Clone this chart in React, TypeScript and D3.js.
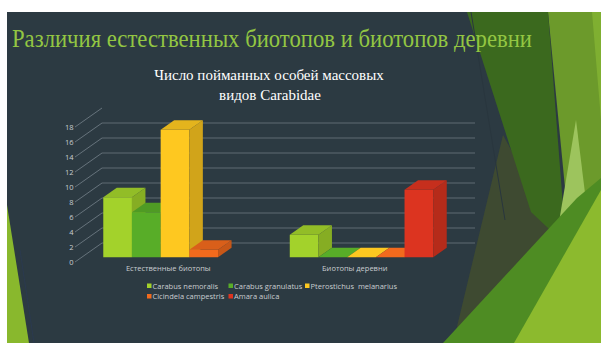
import React from "react";
import * as d3 from "d3";

const categories = ["Естественные биотопы", "Биотопы деревни"];
const seriesNames = [
  "Carabus nemoralis",
  "Carabus granulatus",
  "Pterostichus  melanarius",
  "Cicindela campestris",
  "Amara aulica",
];
const seriesColors = ["#a3d22b", "#58ad28", "#fec820", "#f26a1d", "#dc3420"];
// values per category, in series order (null = no bar)
const naturalValues: (number | null)[] = [8, 6, 17, 1, null];
const villageValues: (number | null)[] = [3, 0, 0, 0, 9];
const yTicks = [0, 2, 4, 6, 8, 10, 12, 14, 16, 18];
const gridTicks = [0, 2, 4, 6, 8, 10, 12, 14, 16];

const W = 601;
const H = 343;
const BG = "#2c3a42";

export default function App() {
  const values = [naturalValues, villageValues];
  const x = d3.scaleBand<string>().domain(categories).range([75, 448]);
  const y = d3.scaleLinear().domain([0, 18]).range([262, 127]);
  const DX = 27;
  const DY = -19;
  const P = (px: number, v: number, t: number): [number, number] => [
    px + DX * t,
    y(v) + DY * t,
  ];
  const bw = x.bandwidth() / 6.5;
  const t0 = 0.25;
  const t1 = 0.75;
  const poly = (pts: [number, number][]) => pts.map((p) => p.join(",")).join(" ");

  const bars: JSX.Element[] = [];
  categories.forEach((c, ci) => {
    values[ci].forEach((v, si) => {
      if (v === null) return;
      const x0 = (x(c) as number) + 0.75 * bw + si * bw;
      const x1 = x0 + bw;
      const col = seriesColors[si];
      const top = d3.color(col)!.darker(0.3).toString();
      const side = d3.color(col)!.darker(0.55).toString();
      bars.push(
        <g key={`${ci}-${si}`}>
          {v > 0 && (
            <polygon
              points={poly([P(x0, 0, t0), P(x1, 0, t0), P(x1, v, t0), P(x0, v, t0)])}
              fill={col}
            />
          )}
          {v > 0 && (
            <polygon
              points={poly([P(x1, 0, t0), P(x1, 0, t1), P(x1, v, t1), P(x1, v, t0)])}
              fill={side}
            />
          )}
          <polygon
            points={poly([P(x0, v, t0), P(x1, v, t0), P(x1, v, t1), P(x0, v, t1)])}
            fill={v > 0 ? top : col}
          />
        </g>
      );
    });
  });

  const legendRows = [
    [0, 1, 2],
    [3, 4],
  ];
  const legendX = [147, 228.5, 305];
  const legendY = [286, 296.5];

  return (
    <svg
      width={W}
      height={H}
      style={{ position: "absolute", left: 0, top: 0, background: "#ffffff" }}
    >
      <rect x={7} y={12} width={W - 7} height={H - 12} fill={BG} />
      {/* right facet decoration */}
      <polygon points="548,12 601,12 601,260 572,260" fill="#6c9a2b" />
      <polygon points="592,12 601,12 601,120" fill="#7faf31" />
      <polygon points="503,135 566,250 455,335" fill="#3e4a31" />
      <polygon points="467,12 548,12 566,245 531,212" fill="#3b691e" />
      <polygon points="576,120 592,250 546,300" fill="#9dc45d" />
      <polygon points="443,343 577,198 601,178 601,343" fill="#4e8c23" />
      <polygon points="601,190 601,343 514,343" fill="#8cba2e" />
      <line x1={471} y1={12} x2={505} y2={220} stroke="#29363e" strokeWidth={1} />
      {/* left decoration */}
      <polygon points="7,205 7,343 29,343" fill="#89b82d" />
      <line x1={20} y1={250} x2={34} y2={343} stroke="#2b3a4f" strokeWidth={1} />

      <text
        x={12}
        y={47}
        fill="#93c642"
        fontFamily="'Liberation Serif', serif"
        fontSize={25}
        textLength={520}
        lengthAdjust="spacingAndGlyphs"
      >
        Различия естественных биотопов и биотопов деревни
      </text>
      <text
        x={269}
        y={80}
        fill="#ffffff"
        fontFamily="'Liberation Serif', serif"
        fontSize={15}
        textAnchor="middle"
      >
        Число пойманных особей массовых
      </text>
      <text
        x={270}
        y={100}
        fill="#ffffff"
        fontFamily="'Liberation Serif', serif"
        fontSize={15}
        textAnchor="middle"
      >
        видов Carabidae
      </text>

      {/* axes */}
      {gridTicks.map((v) => {
        const a = P(75, v, 1);
        const b = P(448, v, 1);
        return (
          <line key={`g${v}`} x1={a[0]} y1={a[1]} x2={b[0]} y2={b[1]} stroke="#5f6b72" strokeWidth={1} />
        );
      })}
      {yTicks.map((v) => {
        const a = P(75, v, 0);
        const b = P(75, v, 1);
        return (
          <g key={`t${v}`}>
            <line x1={a[0]} y1={a[1]} x2={b[0]} y2={b[1]} stroke="#75818a" strokeWidth={0.8} />
            <text
              x={a[0] - 1.5}
              y={a[1] + 2.8}
              fill="#c9cdd0"
              fontFamily="'Open Sans', sans-serif"
              fontSize={7.5}
              textAnchor="end"
            >
              {v}
            </text>
          </g>
        );
      })}
      {bars}
      {categories.map((c) => (
        <text
          key={c}
          x={(x(c) as number) + x.bandwidth() / 2}
          y={271}
          fill="#c9cdd0"
          fontFamily="'Open Sans', sans-serif"
          fontSize={7.5}
          textAnchor="middle"
        >
          {c}
        </text>
      ))}
      {legendRows.map((row, ri) =>
        row.map((si, k) => (
          <g key={`l${si}`}>
            <rect x={legendX[k]} y={legendY[ri] - 2.5} width={4.5} height={4.5} fill={seriesColors[si]} />
            <text
              x={legendX[k] + 5.5}
              y={legendY[ri] + 2.5}
              fill="#c9cdd0"
              fontFamily="'Open Sans', sans-serif"
              fontSize={7.5}
              style={{ whiteSpace: "pre" }}
            >
              {seriesNames[si]}
            </text>
          </g>
        ))
      )}
    </svg>
  );
}
